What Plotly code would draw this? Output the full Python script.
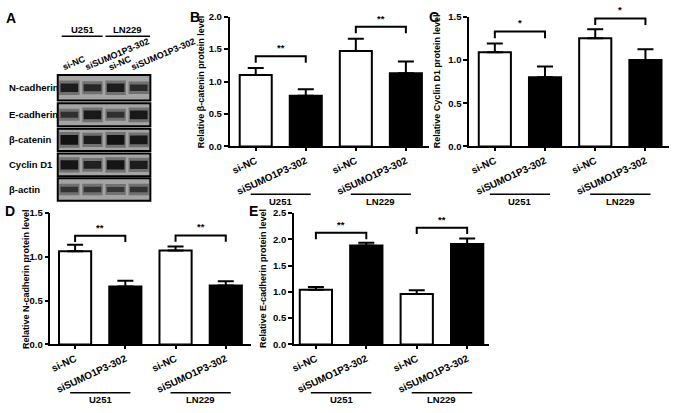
import math
import plotly.graph_objects as go

W, H = 677, 413
FONT = "Liberation Sans, Arial, sans-serif"

# ---------------- data ----------------
categories = ["si-NC", "siSUMO1P3-302", "si-NC", "siSUMO1P3-302"]
cell_lines = ["U251", "LN229"]
bar_colors = ["white", "black", "white", "black"]

beta_catenin_mean = [1.10, 0.78, 1.47, 1.13]
beta_catenin_sd = [0.11, 0.10, 0.19, 0.18]
cyclin_d1_mean = [1.09, 0.80, 1.25, 1.00]
cyclin_d1_sd = [0.10, 0.125, 0.105, 0.125]
n_cadherin_mean = [1.06, 0.66, 1.07, 0.67]
n_cadherin_sd = [0.075, 0.065, 0.045, 0.05]
e_cadherin_mean = [1.04, 1.88, 0.96, 1.91]
e_cadherin_sd = [0.055, 0.055, 0.07, 0.105]

# significance brackets (bracket height, height of drop ends, label) per cell line
beta_catenin_sig = [(1.39, 1.29, "**"), (1.845, 1.745, "**")]
cyclin_d1_sig = [(1.33, 1.25, "*"), (1.48, 1.405, "*")]
n_cadherin_sig = [(1.237, 1.167, "**"), (1.24, 1.17, "**")]
e_cadherin_sig = [(2.124, 2.0, "**"), (2.22, 2.1, "**")]

# western blot (panel A) relative band strengths per lane
blot_proteins = ["N-cadherin", "E-cadherin", "β-catenin", "Cyclin D1", "β-actin"]
band_n_cadherin = [0.80, 0.62, 0.80, 0.58]
band_e_cadherin = [0.50, 0.85, 0.50, 0.85]
band_beta_catenin = [0.95, 0.80, 0.95, 0.85]
band_cyclin_d1 = [0.90, 0.72, 0.90, 0.80]
band_beta_actin = [0.45, 0.45, 0.40, 0.45]
blot_bands = [band_n_cadherin, band_e_cadherin, band_beta_catenin,
              band_cyclin_d1, band_beta_actin]


def px(x):
    return x / W


def py(y):
    return 1 - y / H


fig = go.Figure()
annotations = []
shapes = []
layout_axes = {}

panels = [
    dict(letter="B", vals=beta_catenin_mean, err=beta_catenin_sd, sig=beta_catenin_sig,
         title="Relative β-catenin protein level",
         xd=(227.7, 428.3), yd=(11, 144.3), xr=(-0.52, 3.47), yr=(0, 2.0),
         line_y=193.3, text_y=201, title_x=198.5, let=(193, 11)),
    dict(letter="C", vals=cyclin_d1_mean, err=cyclin_d1_sd, sig=cyclin_d1_sig,
         title="Relative Cyclin D1 protein level",
         xd=(468.3, 668.5), yd=(11, 144.3), xr=(-0.51, 3.46), yr=(0, 1.5),
         line_y=193.3, text_y=201, title_x=435.5, let=(433, 11)),
    dict(letter="D", vals=n_cadherin_mean, err=n_cadherin_sd, sig=n_cadherin_sig,
         title="Relative N-cadherin protein level",
         xd=(47.7, 249), yd=(212.3, 347.7), xr=(-0.49, 3.5), yr=(0, 1.5),
         line_y=397.3, text_y=404, title_x=22.5, let=(7, 211)),
    dict(letter="E", vals=e_cadherin_mean, err=e_cadherin_sd, sig=e_cadherin_sig,
         title="Relative E-cadherin protein level",
         xd=(292.3, 488.5), yd=(212.7, 347.7), xr=(-0.434, 3.44), yr=(0, 2.5),
         line_y=397.3, text_y=404, title_x=260.5, let=(252, 211)),
]

ytickfont = dict(family=FONT, size=9.5, color="black", weight="bold")
xtickfont = dict(family=FONT, size=10, color="black", weight="bold")

for i, p in enumerate(panels):
    aid = "" if i == 0 else str(i + 1)
    xa, ya = "x" + aid, "y" + aid
    fig.add_trace(go.Bar(
        x=[0, 1, 2, 3], y=p["vals"], width=0.64,
        marker=dict(color=bar_colors, line=dict(color="black", width=2)),
        error_y=dict(type="data", array=p["err"], arrayminus=[0, 0, 0, 0],
                     symmetric=False, color="black", thickness=2, width=8),
        xaxis=xa, yaxis=ya, showlegend=False, hoverinfo="skip"))
    for g, (top, drop, stars) in enumerate(p["sig"]):
        fig.add_trace(go.Scatter(
            x=[2 * g, 2 * g, 2 * g + 1, 2 * g + 1], y=[drop, top, top, drop],
            mode="lines", line=dict(color="black", width=2),
            xaxis=xa, yaxis=ya, showlegend=False, hoverinfo="skip"))
        annotations.append(dict(
            x=2 * g + 0.5, y=top, xref=xa, yref=ya, text="<b>" + stars + "</b>",
            showarrow=False, yanchor="bottom", yshift=1,
            font=dict(family=FONT, size=9.5, color="black")))
        shapes.append(dict(
            type="line", xref=xa, yref="paper", x0=2 * g - 0.1, x1=2 * g + 1.1,
            y0=py(p["line_y"]), y1=py(p["line_y"]), line=dict(color="black", width=1.5)))
        annotations.append(dict(
            x=2 * g + 0.5, y=py(p["text_y"]), xref=xa, yref="paper",
            text="<b>" + cell_lines[g] + "</b>", showarrow=False,
            xanchor="center", yanchor="middle",
            font=dict(family=FONT, size=9.5, color="black")))
    layout_axes["xaxis" + aid] = dict(
        domain=[px(p["xd"][0]), px(p["xd"][1])], range=list(p["xr"]), anchor=ya,
        tickmode="array", tickvals=[0, 1, 2, 3], ticktext=categories, tickangle=-25,
        ticks="outside", ticklen=3, tickwidth=1.5, tickcolor="black",
        showline=True, linewidth=1.8, linecolor="black",
        showgrid=False, zeroline=False, tickfont=xtickfont, fixedrange=True)
    layout_axes["yaxis" + aid] = dict(
        domain=[py(p["yd"][1]), py(p["yd"][0])], range=list(p["yr"]), anchor=xa,
        dtick=0.5, tick0=0, tickformat=".1f",
        ticks="outside", ticklen=4, tickwidth=1.5, tickcolor="black",
        showline=True, linewidth=1.8, linecolor="black",
        showgrid=False, zeroline=False, tickfont=ytickfont, fixedrange=True)
    annotations.append(dict(
        x=px(p["title_x"]), y=py((p["yd"][0] + p["yd"][1]) / 2), xref="paper", yref="paper",
        text="<b>" + p["title"] + "</b>", textangle=-90, showarrow=False,
        xanchor="center", yanchor="middle",
        font=dict(family=FONT, size=9, color="black")))
    annotations.append(dict(
        x=px(p["let"][0]), y=py(p["let"][1]), xref="paper", yref="paper",
        text="<b>" + p["letter"] + "</b>", showarrow=False,
        xanchor="center", yanchor="middle",
        font=dict(family=FONT, size=14, color="black")))

# ---------------- panel A: western blot ----------------
row_px = [(71, 97), (100, 123.5), (126, 149), (151.5, 175), (177, 200)]
blot_x = (55, 148)
for r, (name, bands) in enumerate(zip(blot_proteins, blot_bands)):
    n = 5 + r
    xa, ya = "x%d" % n, "y%d" % n
    layout_axes["xaxis%d" % n] = dict(domain=[px(blot_x[0]), px(blot_x[1])], range=[0, 4],
                                      anchor=ya, visible=False, fixedrange=True)
    layout_axes["yaxis%d" % n] = dict(domain=[py(row_px[r][1]), py(row_px[r][0])], range=[0, 1],
                                      anchor=xa, visible=False, fixedrange=True)
    shapes.append(dict(type="rect", xref=xa + " domain", yref=ya + " domain",
                       x0=0, x1=1, y0=0, y1=1, fillcolor="#a4a4a4",
                       line=dict(color="black", width=2), layer="below"))
    for j, inten in enumerate(bands):
        core_w = 2 + 8 * inten
        v = int(80 - 65 * inten)
        fig.add_trace(go.Scatter(
            x=[j + 0.06, j + 0.94], y=[0.5, 0.5], mode="lines",
            line=dict(color="rgba(50,50,50,0.45)", width=core_w + 6),
            xaxis=xa, yaxis=ya, showlegend=False, hoverinfo="skip"))
        fig.add_trace(go.Scatter(
            x=[j + 0.12, j + 0.88], y=[0.5, 0.5], mode="lines",
            line=dict(color="rgb(%d,%d,%d)" % (v, v, v), width=core_w),
            xaxis=xa, yaxis=ya, showlegend=False, hoverinfo="skip"))
    annotations.append(dict(
        x=px(4), y=py((row_px[r][0] + row_px[r][1]) / 2), xref="paper", yref="paper",
        text="<b>" + name + "</b>", showarrow=False, xanchor="left", yanchor="middle",
        font=dict(family=FONT, size=9.5, color="black")))

# lane labels (rotated) and cell line headers above the blot
lane_w = (blot_x[1] - blot_x[0]) / 4
label_em = {"si-NC": 2.611, "siSUMO1P3-302": 7.614}
ang = math.radians(23)
for j, lab in enumerate(categories):
    L = label_em[lab] * 9
    sx = blot_x[0] + lane_w * (j + 0.5) - 6.5
    cx = sx + L / 2 * math.cos(ang)
    cy = 66 - L / 2 * math.sin(ang) - 3
    annotations.append(dict(
        x=px(cx), y=py(cy), xref="paper", yref="paper", text="<b>" + lab + "</b>",
        textangle=-23, showarrow=False, xanchor="center", yanchor="middle",
        font=dict(family=FONT, size=9, color="black")))
for g, cl in enumerate(cell_lines):
    x0, x1 = (0.17, 1.94) if g == 0 else (2.06, 4.0)
    shapes.append(dict(type="line", xref="x5", yref="paper", x0=x0, x1=x1,
                       y0=py(31), y1=py(31), line=dict(color="black", width=1.5)))
    annotations.append(dict(
        x=(x0 + x1) / 2, y=py(24.5), xref="x5", yref="paper", text="<b>" + cl + "</b>",
        showarrow=False, xanchor="center", yanchor="middle",
        font=dict(family=FONT, size=9.5, color="black")))
annotations.append(dict(
    x=px(8), y=py(12), xref="paper", yref="paper", text="<b>A</b>", showarrow=False,
    xanchor="center", yanchor="middle", font=dict(family=FONT, size=14, color="black")))

fig.update_layout(
    width=W, height=H, margin=dict(l=0, r=0, t=0, b=0),
    paper_bgcolor="white", plot_bgcolor="rgba(0,0,0,0)",
    font=dict(family=FONT, color="black"),
    annotations=annotations, shapes=shapes, bargap=0.3, **layout_axes)

fig.write_html("out.html", config={"displayModeBar": False},
               post_script="document.body.style.margin='0px';document.body.style.overflow='hidden';")
